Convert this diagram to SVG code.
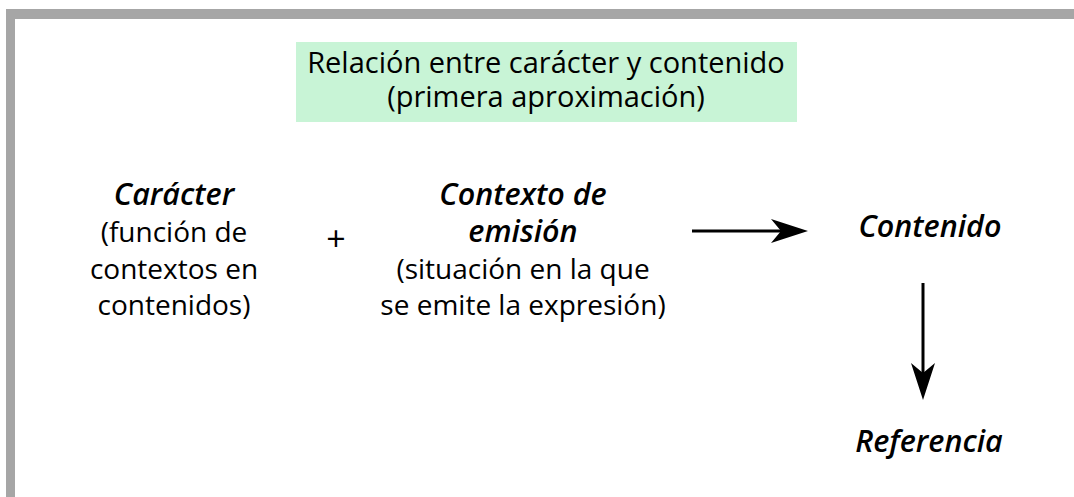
<svg xmlns="http://www.w3.org/2000/svg" width="1074" height="497" viewBox="0 0 1074 497">
<style>
  text { font-family: "Open Sans", "Noto Sans", sans-serif; font-size: 28px; fill: #000; text-anchor: middle; }
  .title { font-size: 29px; }
  .em { font-style: italic; font-weight: 600; font-size: 30.5px; }
  .plus { font-size: 34px; }
  .conn { stroke: #000; stroke-width: 3; fill: none; }
  .head { fill: #000; }
</style>
<rect x="0" y="0" width="1074" height="497" fill="#ffffff"/>
<g id="frame">
  <rect x="6" y="9" width="1068" height="10" fill="#a6a6a6"/>
  <rect x="6" y="9" width="9" height="488" fill="#a6a6a6"/>
</g>
<g id="title">
  <rect x="296" y="42" width="501" height="80" fill="#c8f4d6"/>
  <text class="title" x="546" y="73">Relación entre carácter y contenido</text>
  <text class="title" x="546" y="107">(primera aproximación)</text>
</g>
<g id="caracter">
  <text x="174" y="205" class="em">Carácter</text>
  <text x="174" y="242">(función de</text>
  <text x="174" y="279">contextos en</text>
  <text x="174" y="315">contenidos)</text>
</g>
<g id="plus">
  <text class="plus" x="336" y="251">+</text>
</g>
<g id="contexto">
  <text x="523" y="205" class="em">Contexto de</text>
  <text x="523" y="242" class="em">emisión</text>
  <text x="523" y="279">(situación en la que</text>
  <text x="523" y="315">se emite la expresión)</text>
</g>
<g id="contenido">
  <text x="930" y="237" class="em">Contenido</text>
</g>
<g id="referencia">
  <text x="929" y="452" class="em">Referencia</text>
</g>
<g id="connectors">
  <line class="conn" x1="692" y1="231" x2="790" y2="231"/>
  <polygon class="head" points="808,231 771,219 781,231 771,243"/>
  <line class="conn" x1="923" y1="283" x2="923" y2="385"/>
  <polygon class="head" points="923,400 911,363 923,373 935,363"/>
</g>
</svg>
